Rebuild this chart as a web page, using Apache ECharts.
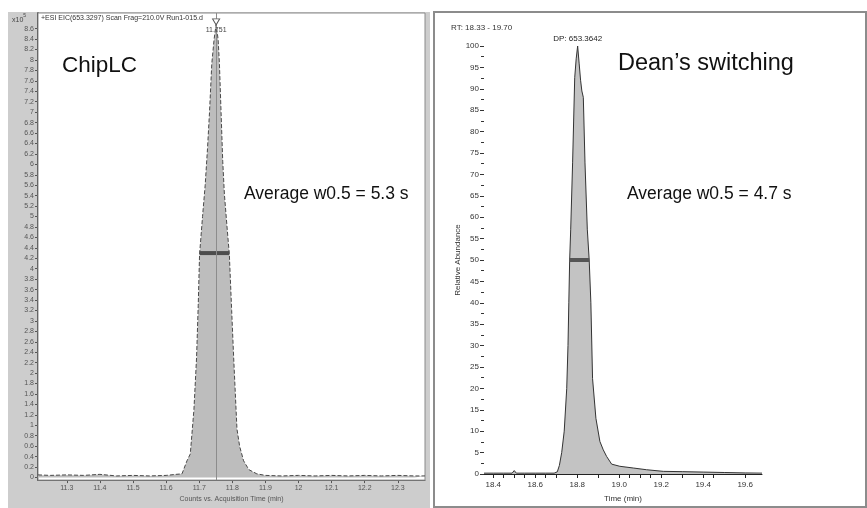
<!DOCTYPE html>
<html><head><meta charset="utf-8">
<script src="https://cdn.jsdelivr.net/npm/echarts@6/dist/echarts.min.js"></script>
<style>html,body{margin:0;padding:0;background:#fff}#c{width:867px;height:508px}</style>
</head><body><div id="c"></div>
<script>
// ---- ChipLC (left) ----
const chipTime = [11.213, 11.25, 11.3, 11.35, 11.4, 11.45, 11.5, 11.55, 11.6, 11.63, 11.648, 11.663, 11.673, 11.684, 11.692, 11.697, 11.701, 11.710, 11.718, 11.725, 11.731, 11.738, 11.745, 11.751, 11.757, 11.761, 11.766, 11.771, 11.776, 11.784, 11.791, 11.798, 11.804, 11.814, 11.822, 11.834, 11.85, 11.874, 11.9, 11.95, 12.0, 12.05, 12.1, 12.15, 12.2, 12.25, 12.3, 12.35, 12.382];
const chipCounts = [0.05, 0.04, 0.05, 0.04, 0.06, 0.03, 0.04, 0.03, 0.04, 0.06, 0.07, 0.32, 0.45, 1.3, 2.3, 3.3, 4.27, 5.0, 5.6, 6.3, 6.99, 7.93, 8.4, 8.68, 8.4, 7.93, 6.99, 6.06, 5.43, 4.8, 4.27, 3.2, 2.3, 0.93, 0.6, 0.32, 0.15, 0.07, 0.04, 0.03, 0.04, 0.03, 0.04, 0.03, 0.04, 0.03, 0.04, 0.03, 0.03];
const chipXTicks = [11.3, 11.4, 11.5, 11.6, 11.7, 11.8, 11.9, 12.0, 12.1, 12.2, 12.3];
const chipYTicks = [0, 0.2, 0.4, 0.6, 0.8, 1, 1.2, 1.4, 1.6, 1.8, 2, 2.2, 2.4, 2.6, 2.8, 3, 3.2, 3.4, 3.6, 3.8, 4, 4.2, 4.4, 4.6, 4.8, 5, 5.2, 5.4, 5.6, 5.8, 6, 6.2, 6.4, 6.6, 6.8, 7, 7.2, 7.4, 7.6, 7.8, 8, 8.2, 8.4, 8.6];
const chipApex = [11.751, 8.73];
const chipHalfBar = [11.701, 11.791];
const chipHalfHeight = 4.3;

// ---- Dean's switching (right) ----
const deanTime = [18.356, 18.40, 18.45, 18.49, 18.50, 18.51, 18.55, 18.60, 18.65, 18.69, 18.705, 18.715, 18.726, 18.738, 18.75, 18.756, 18.760, 18.764, 18.769, 18.778, 18.788, 18.795, 18.802, 18.809, 18.816, 18.822, 18.829, 18.837, 18.848, 18.857, 18.865, 18.873, 18.889, 18.908, 18.924, 18.94, 18.964, 19.003, 19.067, 19.13, 19.21, 19.3, 19.4, 19.5, 19.6, 19.68];
const deanAbund = [0.2, 0.2, 0.2, 0.2, 0.8, 0.2, 0.2, 0.2, 0.2, 0.2, 0.5, 2.0, 5.0, 10.0, 20.0, 30, 40, 50, 57.2, 72.7, 92.6, 97, 100, 96, 92, 89.5, 88, 72.7, 57.2, 50, 40, 22.3, 13, 7.6, 5.65, 4.1, 2.3, 1.8, 1.4, 1.0, 0.62, 0.55, 0.45, 0.35, 0.25, 0.2];
const deanXTicks = [18.4, 18.6, 18.8, 19.0, 19.2, 19.4, 19.6];
const deanXMinorTicks = [18.4, 18.45, 18.5, 18.55, 18.6, 18.65, 18.7, 18.8, 18.9, 19.0, 19.05, 19.1, 19.15, 19.2, 19.3, 19.4, 19.45, 19.6];
const deanApex = [18.802, 100];
const deanHalfBar = [18.762, 18.857];
const deanHalfHeight = 50;

const FONT = 'Liberation Sans, Arial, sans-serif';
const chart = echarts.init(document.getElementById('c'), null, {renderer: 'canvas'});

const pairs = (xs, ys) => xs.map((x, i) => [x, ys[i]]);

chart.setOption({
  animation: false,
  textStyle: {fontFamily: FONT},
  grid: [
    {left: 38, top: 13, width: 387, height: 479, show: true, backgroundColor: '#fff', borderColor: '#8a8a8a', borderWidth: 1, z: 1},
    {left: 484, top: 46, width: 278, height: 430, show: false}
  ],
  xAxis: [
    {type: 'value', gridIndex: 0, min: 11.213, max: 12.382,
     axisLine: {show: true, onZero: false, lineStyle: {color: '#555', width: 1}},
     axisTick: {show: true, length: 3, customValues: chipXTicks, lineStyle: {color: '#555'}},
     axisLabel: {customValues: chipXTicks, fontSize: 7, color: '#555', margin: 4,
                 formatter: v => String(+(+v).toFixed(1))},
     splitLine: {show: true, lineStyle: {color: '#e2e2e2', width: 1}},
     name: 'Counts vs. Acquisition Time (min)', nameLocation: 'middle', nameGap: 11,
     nameTextStyle: {fontSize: 7, color: '#555', verticalAlign: 'top'}},
    {type: 'value', gridIndex: 1, min: 18.356, max: 19.68,
     axisLine: {show: true, onZero: false, lineStyle: {color: '#222', width: 1}},
     axisTick: {show: true, length: 4, customValues: deanXMinorTicks, lineStyle: {color: '#222'}},
     axisLabel: {customValues: deanXTicks, fontSize: 8, color: '#333', margin: 7,
                 formatter: v => (+v).toFixed(1)},
     splitLine: {show: false},
     name: 'Time (min)', nameLocation: 'middle', nameGap: 21,
     nameTextStyle: {fontSize: 8, color: '#333', verticalAlign: 'top'}}
  ],
  yAxis: [
    {type: 'value', gridIndex: 0, min: -0.05, max: 8.9,
     axisLine: {show: true, onZero: false, lineStyle: {color: '#111', width: 1.5}},
     axisTick: {show: true, length: 3, customValues: chipYTicks, lineStyle: {color: '#555'}},
     axisLabel: {customValues: chipYTicks, fontSize: 7, color: '#555', margin: 4,
                 formatter: v => String(+(+v).toFixed(1))},
     splitLine: {show: true, lineStyle: {color: '#e8e8e8', width: 1}}},
    {type: 'value', gridIndex: 1, min: 0, max: 100, interval: 5,
     axisLine: {show: false},
     axisTick: {show: true, length: 4, lineStyle: {color: '#333'}},
     minorTick: {show: true, splitNumber: 2, length: 3, lineStyle: {color: '#333'}},
     axisLabel: {fontSize: 8, color: '#333', margin: 5},
     splitLine: {show: false},
     name: 'Relative Abundance', nameLocation: 'middle', nameGap: 22,
     nameTextStyle: {fontSize: 8, color: '#333'}}
  ],
  series: [
    {type: 'line', xAxisIndex: 0, yAxisIndex: 0, data: pairs(chipTime, chipCounts), z: 3,
     symbol: 'none', lineStyle: {color: '#4a4a4a', width: 1, type: [4, 2]},
     areaStyle: {color: '#bdbdbd', opacity: 1},
     markLine: {silent: true, symbol: 'none', label: {show: false},
                lineStyle: {color: '#8c8c8c', width: 1, type: 'solid'},
                data: [{xAxis: chipApex[0]}]},
     markPoint: {silent: true, symbol: 'triangle', symbolRotate: 180, symbolSize: [7, 6],
                 itemStyle: {color: '#fff', borderColor: '#555', borderWidth: 1},
                 label: {show: true, position: 'bottom', distance: 1, fontSize: 7, color: '#444',
                         formatter: () => chipApex[0].toFixed(3)},
                 data: [{coord: chipApex}]}},
    {type: 'line', xAxisIndex: 0, yAxisIndex: 0, z: 4, symbol: 'none',
     data: pairs(chipHalfBar, [chipHalfHeight, chipHalfHeight]),
     lineStyle: {color: '#4d4d4d', width: 4}},
    {type: 'line', xAxisIndex: 1, yAxisIndex: 1, data: pairs(deanTime, deanAbund), z: 3,
     symbol: 'none', lineStyle: {color: '#333', width: 1},
     areaStyle: {color: '#c3c3c3', opacity: 1},
     markPoint: {silent: true, symbol: 'circle', symbolSize: 0,
                 label: {show: true, position: 'top', distance: 3, fontSize: 8, color: '#222',
                         formatter: 'DP: 653.3642'},
                 data: [{coord: deanApex}]}},
    {type: 'line', xAxisIndex: 1, yAxisIndex: 1, z: 4, symbol: 'none',
     data: pairs(deanHalfBar, [deanHalfHeight, deanHalfHeight]),
     lineStyle: {color: '#555', width: 4}}
  ],
  graphic: [
    {type: 'rect', z: -10, shape: {x: 8, y: 12, width: 422, height: 496}, style: {fill: '#cdcdcd'}},
    {type: 'rect', z: -10, shape: {x: 434, y: 12, width: 432, height: 495}, style: {fill: '#fff', stroke: '#8c8c8c', lineWidth: 2}},
    {type: 'text', z: 10, x: 12, y: 13, style: {text: '{a|x10}{b|5}', rich: {a: {fontSize: 7, fill: '#444', padding: [4, 0, 0, 0]}, b: {fontSize: 5, fill: '#444', verticalAlign: 'top'}}}},
    {type: 'text', z: 10, x: 41, y: 15, style: {text: '+ESI EIC(653.3297) Scan Frag=210.0V Run1-015.d', fontSize: 7, fill: '#333', fontFamily: FONT}},
    {type: 'text', z: 10, x: 62, y: 54, style: {text: 'ChipLC', fontSize: 22.5, fill: '#111', fontFamily: FONT}},
    {type: 'text', z: 10, x: 244, y: 185, style: {text: 'Average w0.5 = 5.3 s', fontSize: 17.5, fill: '#111', fontFamily: FONT}},
    {type: 'text', z: 10, x: 618, y: 52, style: {text: 'Dean\u2019s switching', fontSize: 23.5, fill: '#111', fontFamily: FONT}},
    {type: 'text', z: 10, x: 627, y: 185, style: {text: 'Average w0.5 = 4.7 s', fontSize: 17.5, fill: '#111', fontFamily: FONT}},
    {type: 'text', z: 10, x: 451, y: 24, style: {text: 'RT: 18.33 - 19.70', fontSize: 8, fill: '#333', fontFamily: FONT}}
  ]
});
</script></body></html>
